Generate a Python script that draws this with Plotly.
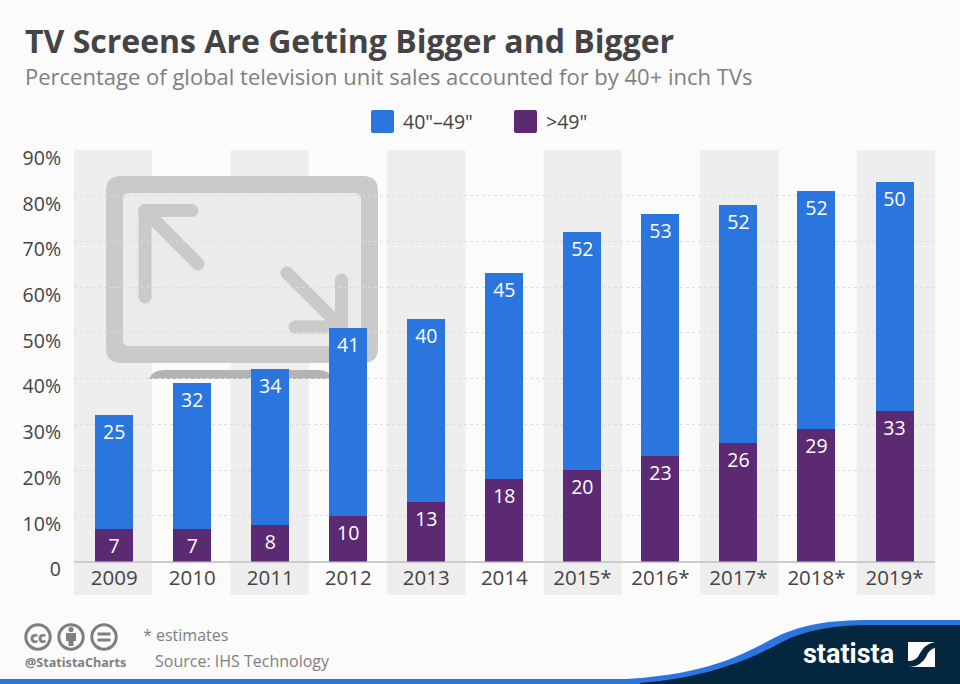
import plotly.graph_objects as go

years = ["2009", "2010", "2011", "2012", "2013", "2014", "2015*", "2016*", "2017*", "2018*", "2019*"]
over_49 = [7, 7, 8, 10, 13, 18, 20, 23, 26, 29, 33]
from_40_to_49 = [25, 32, 34, 41, 40, 45, 52, 53, 52, 52, 50]
y_ticks = [0, 10, 20, 30, 40, 50, 60, 70, 80, 90]
y_labels = ["0", "10%", "20%", "30%", "40%", "50%", "60%", "70%", "80%", "90%"]

BLUE = "#2a76de"
PURPLE = "#5c2a72"
NAVY = "#04263f"
BG = "#fbfbfb"
FONT = "Open Sans"
W, H = 960, 684
L, R, T, B = 74, 935, 150, 561.5
X_MIN, X_MAX = -0.515, 10.519
ICON = "#cacaca"

def px(v): return v / W
def py(v): return 1 - v / H
def dx(v): return X_MIN + (v - L) / (R - L) * (X_MAX - X_MIN)
def dy(v): return (B - v) / (B - T) * 90

def ppath(cmds):
    out = []
    for c in cmds:
        if isinstance(c, str):
            out.append(c)
        else:
            out.append(" ".join(f"{px(c[i]):.5f},{py(c[i+1]):.5f}" for i in range(0, len(c), 2)))
    return " ".join(out)

def dpath(cmds):
    out = []
    for c in cmds:
        if isinstance(c, str):
            out.append(c)
        else:
            out.append(" ".join(f"{dx(c[i]):.5f},{dy(c[i+1]):.5f}" for i in range(0, len(c), 2)))
    return " ".join(out)

def rr(x0, y0, x1, y1, r):
    return ["M", (x0 + r, y0), "L", (x1 - r, y0), "Q", (x1, y0, x1, y0 + r), "L", (x1, y1 - r),
            "Q", (x1, y1, x1 - r, y1), "L", (x0 + r, y1), "Q", (x0, y1, x0, y1 - r), "L", (x0, y0 + r),
            "Q", (x0, y0, x0 + r, y0), "Z"]

shapes = []

def paper_path(cmds, fill, layer="below", line=None, lw=0):
    shapes.append(dict(type="path", xref="paper", yref="paper", path=ppath(cmds), fillcolor=fill,
                       line=dict(color=line or fill, width=lw), layer=layer))

def paper_rect(x0, y0, x1, y1, fill, layer="below"):
    shapes.append(dict(type="rect", xref="paper", yref="paper", x0=px(x0), x1=px(x1), y0=py(y1), y1=py(y0),
                       fillcolor=fill, line=dict(width=0), layer=layer))

def paper_circle(cx, cy, r, fill, line=None, lw=0):
    shapes.append(dict(type="circle", xref="paper", yref="paper", x0=px(cx - r), x1=px(cx + r), y0=py(cy + r), y1=py(cy - r),
                       fillcolor=fill, line=dict(color=line or fill, width=lw), layer="above"))

# alternating bands
for i in range(0, 11, 2):
    x0 = L + i * (R - L) / 11
    paper_rect(x0, T, x0 + (R - L) / 11, 595, "#eeeeee")

# icon, on the axes so it sits above the gridlines and below the bars
def data_path(cmds, fill, line=None, lw=0):
    shapes.append(dict(type="path", xref="x", yref="y", path=dpath(cmds), fillcolor=fill,
                       line=dict(color=line or fill, width=lw), layer="below"))

def data_circle(cx, cy, r, fill):
    shapes.append(dict(type="circle", xref="x", yref="y", x0=dx(cx - r), x1=dx(cx + r), y0=dy(cy + r), y1=dy(cy - r),
                       fillcolor=fill, line=dict(width=0), layer="below"))

def capsule(x0, y0, x1, y1, w=13):
    shapes.append(dict(type="line", xref="x", yref="y", x0=dx(x0), x1=dx(x1), y0=dy(y0), y1=dy(y1),
                       line=dict(color=ICON, width=w), layer="below"))
    data_circle(x0, y0, w / 2, ICON)
    data_circle(x1, y1, w / 2, ICON)

data_path(rr(106, 176, 378, 363, 15), ICON)
data_path(rr(123, 193, 361, 346, 6), "#ebebeb")
capsule(145, 210.5, 192, 210.5)
capsule(145, 210.5, 145, 297)
capsule(145, 210.5, 198, 264)
capsule(287, 273, 341, 327)
capsule(341.5, 280, 341.5, 327)
capsule(295, 327, 341.5, 327)
data_path(["M", (149, 379), "Q", (152, 370, 165, 370), "L", (317, 370), "Q", (330, 370, 333, 379), "Z"], "#b3b3b3")

# legend
paper_path(rr(371, 110, 394, 133, 2), BLUE, "above")
paper_path(rr(514, 110, 537, 133, 2), PURPLE, "above")

# footer wave
paper_path(["M", (600, 684), "L", (600, 680), "C", (690, 678, 730, 662, 770, 640), "C", (800, 624, 830, 620, 870, 620),
            "L", (960, 620), "L", (960, 684), "Z"], BLUE, "above")
paper_path(["M", (625, 684), "C", (700, 680, 745, 662, 782, 642), "C", (805, 630, 835, 625, 870, 625),
            "L", (960, 625), "L", (960, 684), "Z"], NAVY, "above")
paper_rect(0, 679, 640, 684, BLUE, "above")

# statista mark
paper_path(["M", (908, 667), "L", (908, 642), "L", (935, 642), "L", (935, 667), "Z"], "#ffffff", "above")
paper_path(["M", (935, 642), "C", (925, 644, 922, 650, 919, 655), "C", (917, 659, 913, 661, 908, 661),
            "L", (908, 667), "C", (918, 667, 923, 662, 926, 657), "C", (928, 652, 931, 649, 935, 648), "Z"], NAVY, "above")

# licence icons
for cx in (38, 71, 104):
    paper_circle(cx, 637, 12.2, BG, "#7f7f7f", 3)
paper_circle(71, 629.5, 2.6, "#7f7f7f")
paper_path(["M", (66, 633), "L", (76, 633), "L", (76, 641), "L", (73.5, 641), "L", (73.5, 646), "L", (68.5, 646), "L", (68.5, 641), "L", (66, 641), "Z"], "#7f7f7f", "above")
paper_rect(97.5, 632.5, 110.5, 635.5, "#7f7f7f", "above")
paper_rect(97.5, 638.5, 110.5, 641.5, "#7f7f7f", "above")

def note(x, y, text, size, color, weight=None, anchor="left", family=FONT):
    return dict(xref="paper", yref="paper", x=px(x), y=py(y), text=text, showarrow=False, xanchor=anchor, yanchor="middle",
                font=dict(family=family, size=size, color=color, weight=weight), borderpad=0, borderwidth=0)

annotations = [
    note(25, 40, "TV Screens Are Getting Bigger and Bigger", 32, "#444444", 700),
    note(25, 75.5, "Percentage of global television unit sales accounted for by 40+ inch TVs", 22, "#808080"),
    note(403, 121, "40\"–49\"", 19.5, "#444444"),
    note(546, 121, "&gt;49\"", 19.5, "#444444"),
    note(143, 635, "* estimates", 16, "#808080"),
    note(155, 661, "Source: IHS Technology", 16, "#808080"),
    note(25, 662, "@StatistaCharts", 12.6, "#808080", 700),
    note(38, 636.5, "cc", 15, "#7f7f7f", 800, "center"),
    note(803, 654, "statista", 27, "#ffffff", 700, "left", "Roboto"),
]

def bars(name, values, color):
    return go.Bar(name=name, x=list(range(len(years))), y=values, marker=dict(color=color, line=dict(width=0)),
                  text=[str(v) for v in values], textposition="inside", insidetextanchor="end", textangle=0,
                  constraintext="none", textfont=dict(family=FONT, size=19.5, color="#ffffff"), showlegend=False,
                  cliponaxis=False)

fig = go.Figure([bars(">49\"", over_49, PURPLE), bars("40\"–49\"", from_40_to_49, BLUE)])
fig.update_layout(
    width=W, height=H, autosize=False, barmode="stack", bargap=0.513,
    margin=dict(l=0, r=0, t=0, b=0, autoexpand=False), paper_bgcolor=BG, plot_bgcolor="rgba(0,0,0,0)",
    shapes=shapes, annotations=annotations, font=dict(family=FONT, color="#444444"),
    xaxis=dict(domain=[px(L), px(R)], range=[X_MIN, X_MAX], tickmode="array", tickvals=list(range(len(years))), ticktext=years,
               showgrid=False, zeroline=False, showline=False, ticks="", tickfont=dict(size=20.5, color="#444444", family=FONT),
               ticklabelstandoff=2, automargin=False),
    yaxis=dict(domain=[py(B), py(T)], range=[0, 90], tickmode="array", tickvals=y_ticks, ticktext=y_labels,
               showgrid=True, griddash="dot", gridcolor="#dcdcdc", gridwidth=1, zeroline=True, zerolinecolor="#cccccc", zerolinewidth=2,
               showline=False, ticks="", tickfont=dict(size=19.5, color="#444444", family=FONT), ticklabelshift=8, ticklabelstandoff=12,
               automargin=False),
)
fig.write_html("out.html", config=dict(displayModeBar=False),
               post_script="document.body.style.margin='0';document.body.style.background='#fbfbfb';")
